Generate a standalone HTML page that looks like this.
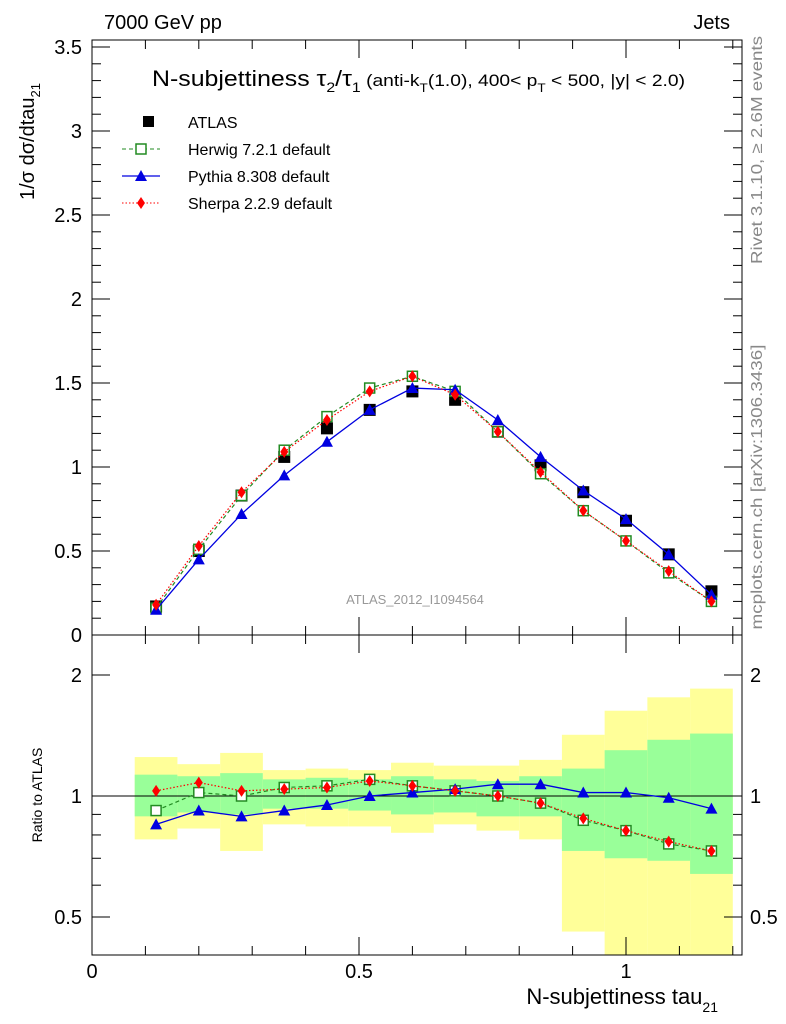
<!DOCTYPE html>
<html><head><meta charset="utf-8"><style>
body{margin:0;background:#fff}
svg{display:block;font-family:"Liberation Sans",sans-serif}
</style></head><body>
<svg id="c" width="786" height="1024" viewBox="0 0 786 1024">
<g id="bands"></g>
<g id="frames"></g>
<g id="marks"></g>
<text x="104" y="29" font-size="20">7000 GeV pp</text>
<text x="730" y="29" font-size="20" text-anchor="end">Jets</text>
<text x="152" y="86" font-size="22" textLength="533" lengthAdjust="spacingAndGlyphs">N-subjettiness τ<tspan font-size="14" dy="6">2</tspan><tspan dy="-6">/τ</tspan><tspan font-size="14" dy="6">1</tspan><tspan font-size="17" dy="-6"> (anti-k</tspan><tspan font-size="12" dy="6">T</tspan><tspan font-size="17" dy="-6">(1.0), 400&lt; p</tspan><tspan font-size="12" dy="6">T</tspan><tspan font-size="17" dy="-6"> &lt; 500, |y| &lt; 2.0)</tspan></text>
<g id="legend" font-size="16">
<g><rect x="143" y="116" width="11" height="11" fill="#000"/><text x="188" y="128">ATLAS</text></g>
<g><line x1="122" y1="149" x2="160" y2="149" stroke="#228b22" stroke-dasharray="4,3"/><rect x="136" y="144" width="10" height="10" fill="#fff" stroke="#228b22" stroke-width="1.5"/><text x="188" y="155">Herwig 7.2.1 default</text></g>
<g><line x1="122" y1="176" x2="160" y2="176" stroke="#0000e0" stroke-width="1.3"/><path d="M141,170 L147,181 L135,181Z" fill="#0000e0"/><text x="188" y="182">Pythia 8.308 default</text></g>
<g><line x1="122" y1="203" x2="160" y2="203" stroke="#ff0000" stroke-dasharray="1.5,2"/><path d="M141,197 L145,203 L141,209 L137,203Z" fill="#ff0000"/><text x="188" y="209">Sherpa 2.2.9 default</text></g>
</g>
<text x="415" y="604" font-size="13" fill="#999" text-anchor="middle">ATLAS_2012_I1094564</text>
<text transform="translate(762,150) rotate(-90)" font-size="16" fill="#888" text-anchor="middle" textLength="228" lengthAdjust="spacingAndGlyphs">Rivet 3.1.10, ≥ 2.6M events</text>
<text transform="translate(762,487) rotate(-90)" font-size="16" fill="#888" text-anchor="middle" textLength="285" lengthAdjust="spacingAndGlyphs">mcplots.cern.ch [arXiv:1306.3436]</text>
<text transform="translate(34,200) rotate(-90)" font-size="20">1/σ dσ/dtau<tspan font-size="13" dy="6">21</tspan></text>
<text transform="translate(42,795) rotate(-90)" font-size="14" text-anchor="middle">Ratio to ATLAS</text>
<text x="718" y="1004" font-size="22" text-anchor="end">N-subjettiness tau<tspan font-size="14" dy="8">21</tspan></text>
</svg>
<script>
const xCenters=[0.12,0.2,0.28,0.36,0.44,0.52,0.6,0.68,0.76,0.84,0.92,1.0,1.08,1.16];
const atlas=[0.17,0.50,0.83,1.06,1.23,1.34,1.45,1.40,1.21,1.01,0.85,0.68,0.48,0.26];
const herwig=[0.16,0.51,0.83,1.10,1.30,1.47,1.54,1.45,1.21,0.96,0.74,0.56,0.37,0.20];
const pythia=[0.15,0.45,0.72,0.95,1.15,1.34,1.47,1.46,1.28,1.06,0.86,0.69,0.48,0.24];
const sherpa=[0.18,0.53,0.85,1.09,1.28,1.45,1.54,1.43,1.21,0.97,0.74,0.56,0.38,0.20];
const herwigRatio=[0.92,1.02,1.0,1.05,1.06,1.10,1.06,1.03,1.0,0.96,0.87,0.82,0.76,0.73];
const pythiaRatio=[0.85,0.92,0.89,0.92,0.95,1.0,1.02,1.04,1.07,1.07,1.02,1.02,0.99,0.93];
const sherpaRatio=[1.03,1.08,1.03,1.04,1.05,1.09,1.06,1.03,1.0,0.96,0.88,0.82,0.77,0.73];
const yellowHi=[1.25,1.20,1.28,1.16,1.17,1.16,1.21,1.19,1.19,1.23,1.42,1.63,1.76,1.85];
const yellowLo=[0.78,0.83,0.73,0.85,0.84,0.84,0.81,0.85,0.82,0.78,0.46,0.35,0.35,0.35];
const greenHi=[1.13,1.12,1.14,1.10,1.11,1.10,1.12,1.10,1.09,1.12,1.17,1.30,1.38,1.43];
const greenLo=[0.89,0.91,0.90,0.93,0.93,0.92,0.90,0.91,0.89,0.89,0.73,0.70,0.69,0.64];
const binW=0.08;
const mainTicks=[0,0.5,1,1.5,2,2.5,3,3.5];
const ratioTicks=[0.5,1,2];
const xTicks=[0,0.5,1];

const L=92,R=742,T=40,M=635,B=955;
const X=v=>L+534*v;
const Y=v=>635-168*v;
const YR=r=>{const p=796-121*Math.log2(r);return Math.max(M,Math.min(B,p));};
const NS='http://www.w3.org/2000/svg';
function mk(tag,attrs,parent){const e=document.createElementNS(NS,tag);for(const k in attrs)e.setAttribute(k,attrs[k]);document.getElementById(parent).appendChild(e);return e;}

xCenters.forEach((c,i)=>{
 const x0=X(c-binW/2),w=X(c+binW/2)-x0;
 let e=mk('rect',{x:x0,y:YR(yellowHi[i]),width:w,height:YR(yellowLo[i])-YR(yellowHi[i]),fill:'#ffff99'},'bands');
 
 
 e=mk('rect',{x:x0,y:YR(greenHi[i]),width:w,height:YR(greenLo[i])-YR(greenHi[i]),fill:'#99ff99'},'bands');
 
 
});
mk('rect',{x:L,y:T,width:R-L,height:M-T,fill:'none',stroke:'#000','stroke-width':1},'frames');
mk('rect',{x:L,y:M,width:R-L,height:B-M,fill:'none',stroke:'#000','stroke-width':1},'frames');
mk('line',{x1:L,y1:796,x2:R,y2:796,stroke:'#000'},'frames');
for(let v=0;v<=3.55;v+=0.1){const y=Y(v);if(y<T)continue;const maj=Math.abs(v*2-Math.round(v*2))<1e-6;const l=maj?18:9;
 mk('line',{x1:L,y1:y,x2:L+l,y2:y,stroke:'#000'},'frames');mk('line',{x1:R,y1:y,x2:R-l,y2:y,stroke:'#000'},'frames');}
mainTicks.forEach(v=>{const t=mk('text',{x:82,y:Y(v)+7,'font-size':20,'text-anchor':'end'},'frames');t.textContent=String(v);
 
 });
[0.4,0.5,0.6,0.7,0.8,0.9,1,2].forEach(v=>{const y=YR(v);const maj=ratioTicks.includes(v);const l=maj?18:9;
 mk('line',{x1:L,y1:y,x2:L+l,y2:y,stroke:'#000'},'frames');mk('line',{x1:R,y1:y,x2:R-l,y2:y,stroke:'#000'},'frames');});
ratioTicks.forEach(v=>{let t=mk('text',{x:82,y:YR(v)+7,'font-size':20,'text-anchor':'end'},'frames');t.textContent=String(v);
 
 
 t=mk('text',{x:750,y:YR(v)+7,'font-size':20},'frames');t.textContent=String(v);
 
 });
for(let v=0;v<=1.2;v+=0.1){const x=X(v);const maj=Math.abs(v*2-Math.round(v*2))<1e-6;const l=maj?18:9;
 [[T,1],[M,-1],[M,1],[B,-1]].forEach(([y,d])=>mk('line',{x1:x,y1:y,x2:x,y2:y+d*l,stroke:'#000'},'frames'));}
xTicks.forEach(v=>{const t=mk('text',{x:X(v),y:978,'font-size':20,'text-anchor':'middle'},'frames');t.textContent=String(v);
 
 });

function series(vals,yf,color,dash,w,marker,name){
 const pts=xCenters.map((c,i)=>[X(c),yf(vals[i])]);
 const p=mk('polyline',{points:pts.map(q=>q.join(',')).join(' '),fill:'none',stroke:color,'stroke-width':w,'stroke-dasharray':dash},'marks');
 
 
 pts.forEach(([x,y])=>{let e;
  if(marker==='sq')e=mk('rect',{x:x-5,y:y-5,width:10,height:10,fill:'#fff',stroke:color,'stroke-width':1.5},'marks');
  else if(marker==='tri')e=mk('path',{d:`M${x},${y-6}L${x+6},${y+5}L${x-6},${y+5}Z`,fill:color},'marks');
  else e=mk('path',{d:`M${x},${y-6}L${x+4},${y}L${x},${y+6}L${x-4},${y}Z`,fill:color},'marks');
  
  });
}
xCenters.forEach((c,i)=>{const e=mk('rect',{x:X(c)-6,y:Y(atlas[i])-6,width:12,height:12,fill:'#000'},'marks');
 
 });
series(herwig,Y,'#228b22','4,3',1.2,'sq','herwig');
series(pythia,Y,'#0000e0','',1.3,'tri','pythia');
series(sherpa,Y,'#ff0000','1.5,2',1.2,'dia','sherpa');
series(herwigRatio,YR,'#228b22','4,3',1.2,'sq','herwig-ratio');
series(pythiaRatio,YR,'#0000e0','',1.3,'tri','pythia-ratio');
series(sherpaRatio,YR,'#ff0000','1.5,2',1.2,'dia','sherpa-ratio');
</script>
</body></html>
